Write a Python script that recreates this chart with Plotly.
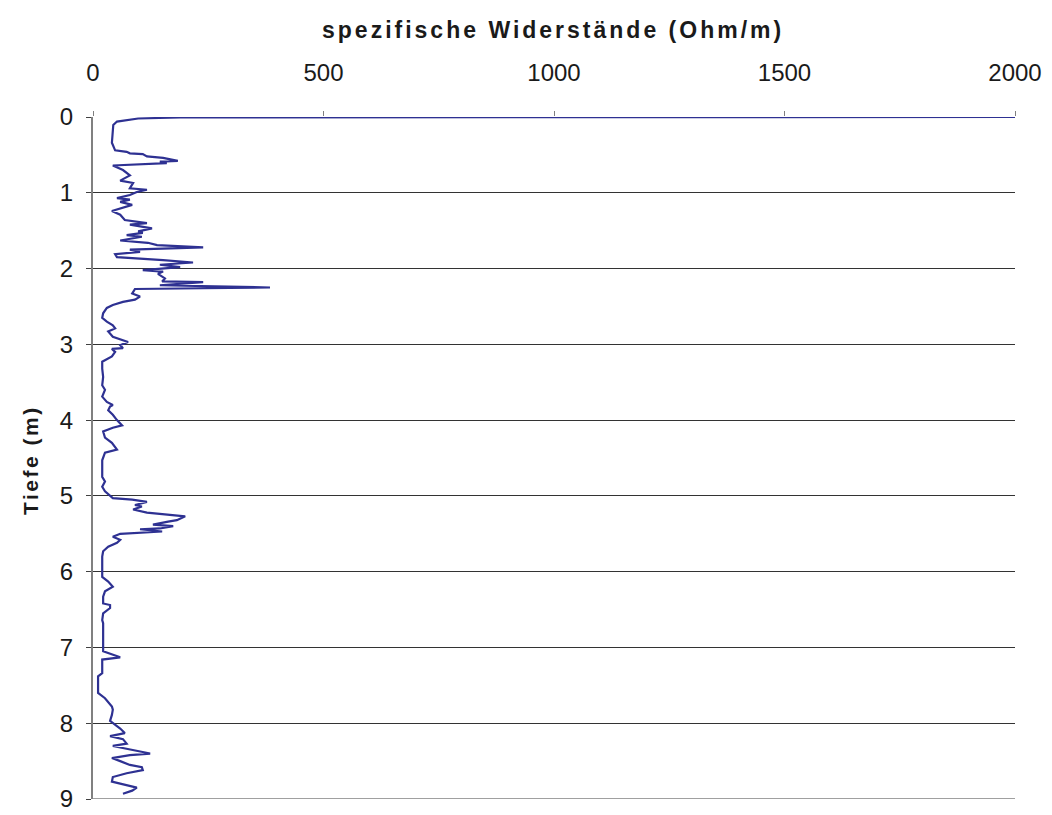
import plotly.graph_objects as go

depth_m = [0, 0.003, 0.006, 0.02, 0.06, 0.105, 0.26, 0.34, 0.44, 0.46, 0.48, 0.49, 0.52, 0.54, 0.58, 0.59, 0.61,
           0.64, 0.70, 0.77, 0.84, 0.87, 0.94, 0.96, 0.99, 1.03, 1.07, 1.09, 1.12, 1.16, 1.24, 1.29, 1.36, 1.40,
           1.42, 1.47, 1.51, 1.53, 1.56, 1.58, 1.63, 1.66, 1.69, 1.72, 1.75, 1.78, 1.81, 1.85, 1.89, 1.92, 1.95,
           1.98, 2.02, 2.04, 2.07, 2.13, 2.17, 2.18, 2.22, 2.25, 2.26, 2.27, 2.33, 2.37, 2.41, 2.44, 2.48, 2.52,
           2.59, 2.65, 2.70, 2.75, 2.79, 2.83, 2.90, 2.97, 3.01, 3.05, 3.06, 3.10, 3.16, 3.23, 3.32, 3.43, 3.54,
           3.60, 3.69, 3.76, 3.80, 3.82, 3.87, 3.93, 4.00, 4.04, 4.07, 4.10, 4.15, 4.23, 4.30, 4.39, 4.43, 4.53,
           4.75, 4.81, 4.88, 4.94, 5.03, 5.05, 5.08, 5.12, 5.14, 5.18, 5.22, 5.27, 5.32, 5.34, 5.38, 5.40, 5.43,
           5.44, 5.47, 5.50, 5.54, 5.58, 5.62, 5.67, 5.73, 5.80, 6.07, 6.13, 6.20, 6.26, 6.33, 6.42, 6.44, 6.48,
           6.55, 6.64, 6.68, 7.05, 7.13, 7.16, 7.34, 7.38, 7.60, 7.67, 7.78, 7.82, 7.89, 7.97, 8.02, 8.07, 8.13,
           8.17, 8.21, 8.27, 8.30, 8.35, 8.40, 8.42, 8.46, 8.50, 8.55, 8.58, 8.62, 8.66, 8.71, 8.77, 8.81, 8.85,
           8.89, 8.93]

resistivity = [2000, 380, 190, 98, 52, 44, 41, 41, 48, 73, 80, 108, 117, 152, 184, 145, 160,
               43, 65, 80, 59, 87, 80, 117, 95, 80, 52, 80, 59, 85, 41, 59, 69, 117,
               80, 128, 98, 108, 73, 106, 59, 119, 139, 239, 80, 102, 48, 52, 152, 217, 145,
               189, 108, 152, 141, 156, 150, 239, 145, 384, 239, 91, 85, 102, 91, 65, 43, 30,
               22, 20, 30, 43, 48, 33, 43, 76, 59, 65, 41, 48, 41, 20, 20, 22, 20,
               26, 20, 30, 43, 37, 33, 43, 52, 59, 63, 43, 22, 26, 41, 52, 26, 20,
               20, 26, 20, 26, 43, 85, 117, 91, 106, 87, 117, 200, 182, 163, 130, 174, 145,
               102, 150, 59, 43, 59, 52, 33, 22, 20, 20, 33, 43, 26, 22, 22, 37, 37,
               22, 20, 22, 22, 59, 20, 20, 11, 11, 26, 41, 43, 41, 37, 48, 59, 69,
               37, 65, 73, 43, 80, 124, 80, 41, 59, 80, 106, 108, 73, 43, 41, 65, 95,
               85, 65]

x_ticks = [0, 500, 1000, 1500, 2000]
y_ticks = [0, 1, 2, 3, 4, 5, 6, 7, 8, 9]

title_x = "spezifische Widerstände (Ohm/m)"
title_y = "Tiefe (m)"

FONT = "Liberation Sans, Arial, sans-serif"

fig = go.Figure()
fig.add_trace(go.Scatter(x=resistivity, y=depth_m, mode="lines",
                         line=dict(color="#2E3192", width=2.2), showlegend=False))

# bottom boundary line at the last depth tick
fig.add_shape(type="line", xref="paper", yref="y", x0=0, x1=1, y0=y_ticks[-1], y1=y_ticks[-1],
              line=dict(color="#808080", width=1.5))

fig.update_layout(
    width=1052, height=815,
    margin=dict(l=85, r=45, t=109, b=24),
    paper_bgcolor="white", plot_bgcolor="white",
    font=dict(family=FONT, color="black"),
    xaxis=dict(side="top", range=[0, 2000], tickvals=x_ticks, ticks="outside", ticklen=5,
               tickcolor="#808080", showgrid=False, zeroline=False, showline=False,
               tickfont=dict(size=24, family=FONT, color="#1a1a1a"), ticklabelstandoff=20),
    yaxis=dict(range=[9, 0], tickvals=y_ticks, ticks="outside", ticklen=5, tickcolor="#404040",
               showgrid=True, gridcolor="#333333", gridwidth=1, zeroline=False,
               showline=True, linecolor="#808080", linewidth=2,
               tickfont=dict(size=24, family=FONT, color="#1a1a1a"), ticklabelstandoff=8),
    annotations=[
        dict(text="<span style='letter-spacing:3px'><b>" + title_x + "</b></span>",
             xref="paper", yref="paper", x=(553 - 93) / 922, y=(799 - 30) / 682,
             xanchor="center", yanchor="middle", showarrow=False,
             font=dict(size=23, family=FONT, color="#1a1a1a")),
        dict(text="<span style='letter-spacing:2.5px'><b>" + title_y + "</b></span>",
             xref="paper", yref="paper", x=(30 - 93) / 922,
             y=(799 - 460) / 682, xanchor="center", yanchor="middle", textangle=-90,
             showarrow=False, font=dict(size=21, family=FONT, color="#1a1a1a")),
    ],
)

fig.write_html("out.html")
